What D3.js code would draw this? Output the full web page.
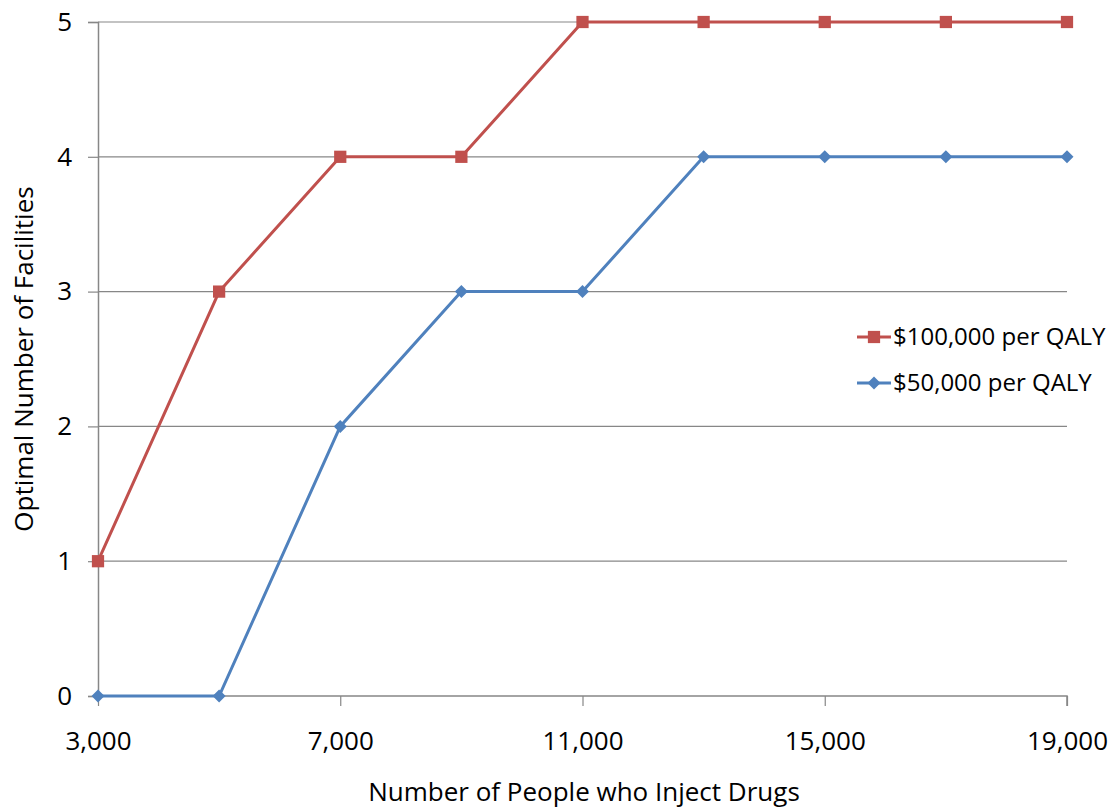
<!DOCTYPE html>
<html>
<head>
<meta charset="utf-8">
<script src="https://cdn.jsdelivr.net/npm/d3@7"></script>
<style>
  html, body { margin: 0; padding: 0; background: #fff; }
  svg { display: block; font-family: "Open Sans", "Liberation Sans", sans-serif; }
</style>
</head>
<body>
<svg id="chart" width="1112" height="810"></svg>
<script>
// Population sizes (people who inject drugs)
const populations = [3000, 5000, 7000, 9000, 11000, 13000, 15000, 17000, 19000];
// Optimal number of facilities at each willingness-to-pay threshold
const wtp100k = [1, 3, 4, 4, 5, 5, 5, 5, 5];
const wtp50k  = [0, 0, 2, 3, 3, 4, 4, 4, 4];
const xTickLabels = [3000, 7000, 11000, 15000, 19000];
const yTicks = [0, 1, 2, 3, 4, 5];
const seriesNames = ["$100,000 per QALY", "$50,000 per QALY"];

const svg = d3.select("#chart");
const margin = { left: 98, right: 1067, top: 22, bottom: 696 };

const x = d3.scaleLinear().domain([3000, 19000]).range([margin.left, margin.right]);
const y = d3.scaleLinear().domain([0, 5]).range([margin.bottom, margin.top]);

const gridColor = "#878787";
const red = "#C0504D", blue = "#4F81BD";

// Horizontal gridlines
svg.append("g")
  .selectAll("line").data(yTicks.filter(d => d > 0)).join("line")
  .attr("x1", margin.left).attr("x2", margin.right)
  .attr("y1", d => y(d)).attr("y2", d => y(d))
  .attr("stroke", gridColor).attr("stroke-width", 1.2);

// Y axis
const yAxis = d3.axisLeft(y).tickValues(yTicks).tickSize(10).tickPadding(16).tickFormat(d3.format("d"));
const gy = svg.append("g").attr("transform", `translate(${margin.left},0)`).call(yAxis);
gy.select(".domain").attr("stroke", gridColor).attr("stroke-width", 1.5);
gy.selectAll(".tick line").attr("stroke", gridColor).attr("stroke-width", 1.2);
gy.selectAll(".tick text").attr("font-size", 26).attr("fill", "#000")
  .attr("font-family", "Open Sans, sans-serif");

// X axis
const xAxis = d3.axisBottom(x).tickValues(xTickLabels).tickSize(10).tickPadding(26).tickFormat(d3.format(","));
const gx = svg.append("g").attr("transform", `translate(0,${margin.bottom})`).call(xAxis);
gx.select(".domain").attr("stroke", gridColor).attr("stroke-width", 1.5)
  .attr("d", `M${margin.left},0H${margin.right}V10`);
gx.selectAll(".tick line").attr("stroke", gridColor).attr("stroke-width", 1.2);
gx.selectAll(".tick text").attr("font-size", 26).attr("fill", "#000")
  .attr("font-family", "Open Sans, sans-serif");

// Axis titles
svg.append("text")
  .attr("x", 584).attr("y", 801)
  .attr("text-anchor", "middle").attr("font-size", 26).attr("fill", "#000")
  .text("Number of People who Inject Drugs");
svg.append("text")
  .attr("transform", "translate(33,359) rotate(-90)")
  .attr("text-anchor", "middle").attr("font-size", 26).attr("fill", "#000")
  .text("Optimal Number of Facilities");

// Series lines and markers
const line = d3.line().x((d, i) => x(populations[i])).y(d => y(d));
const series = [
  { name: seriesNames[0], values: wtp100k, color: red, symbol: d3.symbolSquare, size: 150, rotate: 0 },
  { name: seriesNames[1], values: wtp50k, color: blue, symbol: d3.symbolSquare, size: 85, rotate: 45 }
];

series.forEach(s => {
  svg.append("path").datum(s.values)
    .attr("d", line).attr("fill", "none")
    .attr("stroke", s.color).attr("stroke-width", 3);
  svg.append("g").selectAll("path").data(s.values).join("path")
    .attr("transform", (d, i) => `translate(${x(populations[i])},${y(d)}) rotate(${s.rotate})`)
    .attr("d", d3.symbol().type(s.symbol).size(s.size))
    .attr("fill", s.color);
});

// Legend
const legend = svg.append("g").attr("transform", "translate(857,337)");
series.forEach((s, i) => {
  const g = legend.append("g").attr("transform", `translate(0,${i * 46})`);
  g.append("line").attr("x1", 0).attr("x2", 34).attr("stroke", s.color).attr("stroke-width", 3);
  g.append("path").attr("transform", `translate(17,0) rotate(${s.rotate})`)
    .attr("d", d3.symbol().type(s.symbol).size(s.size)).attr("fill", s.color);
  g.append("text").attr("x", 36).attr("y", 0).attr("dy", "0.35em")
    .attr("font-size", 24).attr("fill", "#000").text(s.name);
});
</script>
</body>
</html>
